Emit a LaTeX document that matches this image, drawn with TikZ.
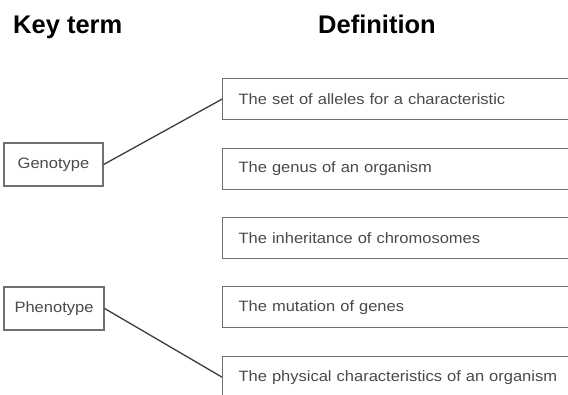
\documentclass[tikz,border=0pt]{standalone}
\usepackage{fontspec}
\setmainfont{Liberation Sans}
\newfontfamily\boxfont[FakeStretch=1.1]{Liberation Sans}
\definecolor{boxtext}{HTML}{4A4A4A}
\definecolor{boxline}{HTML}{707070}
\definecolor{linkline}{HTML}{3C3C3C}
\begin{document}
\begin{tikzpicture}[x=1pt,y=-1pt,
  title/.style={anchor=base west, inner sep=0pt, font=\fontsize{25.5}{30}\selectfont\bfseries, text=black},
  termbox/.style={draw=boxline, line width=1.3pt, minimum height=43pt, inner sep=0pt,
    font=\boxfont\fontsize{15}{18}\selectfont, text=boxtext},
  defbox/.style={draw=boxline, line width=1.3pt, anchor=north west, minimum height=41pt,
    inner xsep=16pt, inner ysep=0pt, text width=340pt, align=left,
    font=\boxfont\fontsize{15}{18}\selectfont, text=boxtext},
  link/.style={draw=linkline, line width=1.3pt}]
\useasboundingbox (0,0) rectangle (568,394);
\clip (0,0) rectangle (568,394);
\fill[white] (0,0) rectangle (568,394);

\node[title] (kt) at (13,33) {Key term};
\node[title] (df) at (318,33) {Definition};

\node[termbox, minimum width=99pt] (geno) at (53.5,164.5) {Genotype};
\node[termbox, minimum width=100pt] (pheno) at (54,308.5) {Phenotype};

\node[defbox] (d1) at (222,78) {The set of alleles for a characteristic};
\node[defbox] (d2) at (222,147.5) {The genus of an organism};
\node[defbox] (d3) at (222,217) {The inheritance of chromosomes};
\node[defbox] (d4) at (222,286) {The mutation of genes};
\node[defbox] (d5) at (222,356) {The physical characteristics of an organism};

\draw[link] (geno.east) -- (d1.west);
\draw[link] (pheno.east) -- (d5.west);
\end{tikzpicture}
\end{document}
